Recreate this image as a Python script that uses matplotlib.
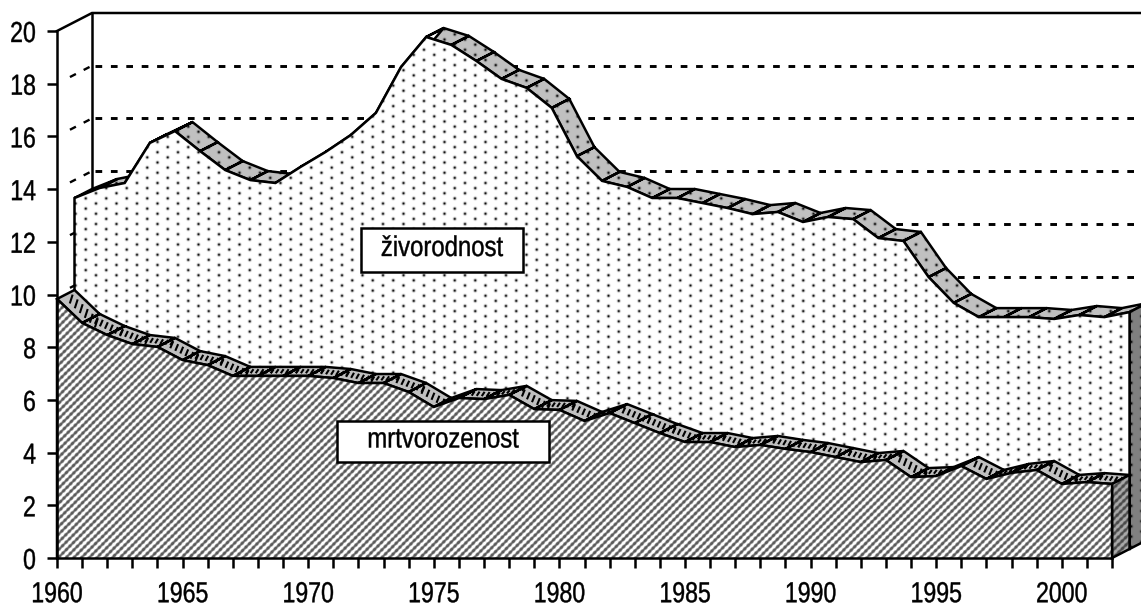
import matplotlib
matplotlib.use("Agg")
from matplotlib import pyplot as plt
from matplotlib.collections import LineCollection
from matplotlib.patches import Polygon, PathPatch, Rectangle
from matplotlib.patheffects import AbstractPathEffect
from matplotlib.path import Path
from matplotlib.transforms import Affine2D
import numpy as np

plt.rcParams['font.family'] = ['Liberation Sans', 'DejaVu Sans']
plt.rcParams['lines.scale_dashes'] = False

years = list(range(1960, 2003))
zivorodnost = [13.32, 13.70, 13.89, 15.41, 15.86, 15.10, 14.38, 14.00, 13.89, 14.50,
               15.07, 15.71, 16.55, 18.29, 19.43, 19.13, 18.52, 17.84, 17.50, 16.74,
               14.91, 13.97, 13.74, 13.32, 13.32, 13.13, 12.94, 12.71, 12.79, 12.41,
               12.60, 12.52, 11.80, 11.69, 10.32, 9.34, 8.80, 8.80, 8.80, 8.73,
               8.88, 8.80, 8.99]
mrtvorozenost = [9.83, 8.92, 8.46, 8.12, 8.01, 7.51, 7.32, 6.91, 6.91, 6.91,
                 6.91, 6.83, 6.64, 6.64, 6.30, 5.73, 6.07, 6.03, 6.19, 5.65,
                 5.62, 5.20, 5.50, 5.12, 4.74, 4.40, 4.40, 4.21, 4.29, 4.14,
                 4.02, 3.83, 3.64, 3.72, 3.07, 3.11, 3.49, 3.00, 3.23, 3.34,
                 2.81, 2.88, 2.81]
x_ticks = list(range(1960, 2001, 5))
y_ticks = list(range(0, 21, 2))
wall_lines = [10, 12, 14, 16, 18]

W, H = 1141, 606
X0, Y0 = 57.0, 558.0      # pixel of (1960, 0)
SX, SY = 25.12, 26.35     # pixels per year, per unit
DX, DY = 17.5 / SX, 9.0 / SY   # depth of one series, in data units
LW = 1.8


def px(x):
    return 1960 + (x - X0) / SX


def py(y):
    return (Y0 - y) / SY


class Narrow(AbstractPathEffect):
    # the reference font is a condensed one, squeeze the glyphs sideways
    def __init__(self, factor, anchor):
        super().__init__()
        self.factor = factor
        self.anchor = anchor

    def draw_path(self, renderer, gc, tpath, affine, rgbFace=None):
        box = tpath.get_extents()
        cx = box.x1 if self.anchor == 'right' else (box.x0 + box.x1) / 2
        squeeze = Affine2D().translate(-cx, 0).scale(self.factor, 1).translate(cx, 0)
        gc0 = renderer.new_gc()
        gc0.copy_properties(gc)
        gc0.set_linewidth(0.3)
        gc0.set_foreground('black')
        renderer.draw_path(gc0, tpath, squeeze + affine, rgbFace)
        gc0.restore()


fig = plt.figure(figsize=(W / 100, H / 100), dpi=100)
ax = fig.add_axes([0, 0, 1, 1])
ax.set_xlim(px(0), px(W))
ax.set_ylim(py(H), py(0))
extent = (px(0), px(W), py(H), py(0))

# fill patterns, one image per pattern
gy, gx = np.mgrid[0:H, 0:W] + 0.5
P = 10.25
u = np.abs((gx - 219.0 + P / 2) % P - P / 2)
col = np.floor((gx - 219.0 + P / 2) / P)
v = np.abs((gy - 203.5 + col * P / 2 + P / 2) % P - P / 2)
dots = np.zeros((H, W, 4))
dots[..., 3] = np.clip(0.95 * np.exp(-(u ** 2 + v ** 2) / 1.9), 0, 1)

S = 7.7
stripes = np.zeros((H, W, 4))
stripes[..., :3] = 0.2
stripes[..., 3] = np.clip(0.36 + 0.5 * np.cos(2 * np.pi * (gx + gy) / S)
                          + 0.12 * np.cos(2 * np.pi * (gx - gy) / 7.0), 0, 0.8)


def fill(path_patch, tex, z):
    path_patch.set_zorder(z)
    ax.add_patch(path_patch)
    im = ax.imshow(tex, extent=extent, aspect='auto', interpolation='nearest', zorder=z + 0.01)
    im.set_clip_path(path_patch)


def outline(xs, ys, z):
    ax.plot(xs, ys, color='black', lw=LW, zorder=z, solid_joinstyle='miter', solid_capstyle='projecting')


def draw_series(vals, depth, tex, side_color, z, marks):
    xs = np.array(years, float) + depth * DX
    ys = np.array(vals) + depth * DY
    base = depth * DY

    # top ribbon
    verts, codes = [], []
    for i in range(len(xs) - 1):
        q = [(xs[i], ys[i]), (xs[i + 1], ys[i + 1]),
             (xs[i + 1] + DX, ys[i + 1] + DY), (xs[i] + DX, ys[i] + DY)]
        verts += q + [q[0]]
        codes += [Path.MOVETO, Path.LINETO, Path.LINETO, Path.LINETO, Path.CLOSEPOLY]
    ribbon = PathPatch(Path(verts, codes), fc='#c0c0c0', ec='none')
    if marks:
        ribbon.set_zorder(z)
        ax.add_patch(ribbon)
        segs = []
        for i in range(len(xs) - 1):
            dv = ys[i + 1] - ys[i]
            for t in [0.3, 0.5, 0.7, 0.9, 1.1, 1.3]:
                p = (xs[i] + t + 0.3 * DX, ys[i] + t * dv + 0.3 * DY)
                q = (xs[i] + t - 0.2 + 0.75 * DX, ys[i] + (t - 0.2) * dv + 0.75 * DY)
                segs.append([p, q])
        ax.add_collection(LineCollection(segs, colors='black', linewidths=1.5, zorder=z + 0.01),
                          autolim=False)
    else:
        fill(ribbon, dots, z)
    ax.add_patch(PathPatch(Path(verts, codes), fc='none', ec='black', lw=LW, zorder=z + 0.02,
                           joinstyle='miter'))

    # right side
    side = [(xs[-1], base), (xs[-1] + DX, base + DY), (xs[-1] + DX, ys[-1] + DY), (xs[-1], ys[-1])]
    fill(Polygon(side, fc=side_color, ec='none'), tex, z + 0.1)
    ax.add_patch(Polygon(side, fc='none', ec='black', lw=LW, zorder=z + 0.12))

    # front face
    front = [(xs[0], base)] + list(zip(xs, ys)) + [(xs[-1], base)]
    fill(Polygon(front, fc='white', ec='none'), tex, z + 0.2)
    outline([xs[0]] + list(xs) + [xs[-1]], [base] + list(ys) + [base], z + 0.22)


# back and side walls
dash = (0, (6.7 * 0.72, 8.7 * 0.72))
for val in wall_lines:
    ax.plot([px(95), px(W + 20)], [val + 2 * DY, val + 2 * DY], color='black', lw=2.1,
            linestyle=dash, dash_capstyle='butt', zorder=1)
    ax.plot([1960 + 0.37 * 2 * DX, 1960 + 0.93 * 2 * DX], [val + 0.37 * 2 * DY, val + 0.93 * 2 * DY],
            color='black', lw=1.7, linestyle=dash, dash_capstyle='butt', zorder=1)
outline([1960, 1960 + 2 * DX, px(W + 20)], [20, 20 + 2 * DY, 20 + 2 * DY], 1.1)
outline([1960 + 2 * DX, 1960 + 2 * DX], [20 + 2 * DY, 10], 1.1)

draw_series(zivorodnost, 1, dots, '#808080', 2, False)
draw_series(mrtvorozenost, 0, stripes, '#a8a8a8', 3, True)

# series labels
for name, (x1, y1, x2, y2) in [('živorodnost', (361, 228, 523, 272)),
                               ('mrtvorozenost', (337, 421, 549, 462))]:
    ax.add_patch(Rectangle((px(x1), py(y2)), px(x2) - px(x1), py(y1) - py(y2),
                           fc='white', ec='black', lw=LW, zorder=5))
    ax.text(px((x1 + x2) / 2), py((y1 + y2) / 2 - 1), name, fontsize=20.5,
            ha='center', va='center', color='black', zorder=6,
            path_effects=[Narrow(0.84, 'center')])

# axes
for s in ['top', 'right']:
    ax.spines[s].set_visible(False)
ax.spines['left'].set_position(('data', 1960))
ax.spines['left'].set_bounds(0, 20)
ax.spines['bottom'].set_position(('data', 0))
ax.spines['bottom'].set_bounds(1960, 2002)
ax.spines['left'].set_linewidth(LW)
ax.spines['bottom'].set_linewidth(LW)
ax.spines['left'].set_zorder(30)
ax.spines['bottom'].set_zorder(30)
ax.xaxis.set_zorder(30)
ax.yaxis.set_zorder(30)
ax.set_xticks(x_ticks)
ax.set_xticklabels([str(y) for y in x_ticks])
ax.set_xticks(years, minor=True)
ax.set_yticks(y_ticks)
ax.set_yticklabels([str(y) for y in y_ticks])
ax.tick_params(axis='both', which='both', length=7, width=LW, labelsize=20.8, colors='black')
ax.tick_params(axis='x', pad=9)
ax.tick_params(axis='y', pad=8)
for label in ax.get_xticklabels():
    label.set_path_effects([Narrow(0.8, 'center')])
for label in ax.get_yticklabels():
    label.set_path_effects([Narrow(0.8, 'right')])

fig.savefig("out.png", dpi=100, facecolor='white')
